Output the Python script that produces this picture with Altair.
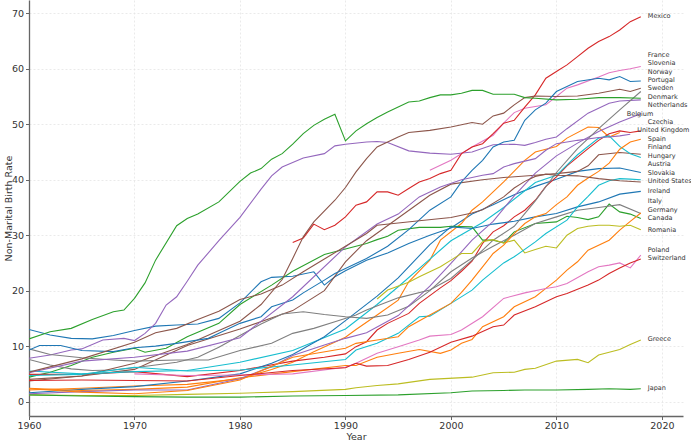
import altair as alt
import pandas as pd

countries = ["Austria", "Belgium", "Canada", "Czechia", "Denmark", "Finland", "France",
             "Germany", "Greece", "Hungary", "Ireland", "Italy", "Japan", "Mexico",
             "Netherlands", "Norway", "Poland", "Portugal", "Romania", "Slovakia",
             "Slovenia", "Spain", "Sweden", "Switzerland", "United Kingdom", "United States"]

austria_years = [1960,1962,1964,1966,1968,1970,1972,1974,1976,1978,1980,1982,1983,1985,1987,1988,1989,1990,1992,1994,1996,1998,2000,2002,2004,2006,2008,2010,2012,2014,2016,2018]
austria_vals = [13.0,12.0,11.4,11.3,11.9,12.8,13.6,13.8,14.0,15.0,17.8,21.6,22.4,22.6,23.4,21.0,22.5,23.6,25.5,26.8,28.5,30.0,31.3,33.8,35.5,37.3,38.8,40.1,41.5,42.0,42.1,41.3]

belgium_years = [1960,1965,1970,1975,1980,1983,1985,1987,1990,1991,1993,1995,1996,1998,1999,2001,2002,2003,2005,2007,2008,2010,2011,2013,2014,2015,2016]
belgium_vals = [2.1,2.4,2.8,3.1,4.1,5.8,7.1,9.0,11.6,13.0,15.6,18.3,21.6,25.5,29.1,32.1,34.5,36.0,39.6,43.5,45.0,46.0,47.5,49.5,49.4,47.7,48.5]

canada_years = [1960,1962,1964,1966,1968,1970,1971,1973,1975,1978,1980,1983,1985,1988,1990,1992,1993,1994,1995,1997,1999,2000,2002,2003,2004,2005,2006,2008,2010,2011,2012,2013,2014,2015,2016,2017,2018]
canada_vals = [4.4,5.3,6.5,8.0,8.9,9.6,8.9,9.6,11.7,14.1,17.5,21.0,23.5,26.5,27.5,28.5,29.2,29.8,30.9,31.4,31.4,31.6,31.5,29.1,29.1,28.6,30.6,32.1,32.4,33.4,33.2,32.8,33.3,35.6,34.2,33.8,33.0]

czechia_years = [1960,1965,1970,1975,1980,1985,1988,1990,1991,1992,1993,1994,1996,1997,1999,2000,2001,2002,2003,2004,2005,2006,2007,2008,2009,2010,2011,2013,2014,2015,2016,2017,2018]
czechia_vals = [4.9,4.9,5.4,4.5,5.6,7.3,8.0,8.6,9.9,10.8,12.9,14.1,15.9,17.7,20.5,21.8,23.5,25.3,28.5,30.6,31.7,33.3,34.5,36.3,38.8,40.5,42.5,45.6,47.1,48.3,48.8,48.5,48.8]

denmark_years = [1960,1962,1964,1965,1967,1969,1970,1971,1972,1973,1974,1975,1976,1978,1980,1982,1983,1984,1986,1988,1989,1990,1992,1993,1994,1996,1998,2000,2002,2004,2006,2007,2008,2009,2010,2011,2013,2015,2016,2018]
denmark_vals = [7.8,8.4,9.3,9.5,11.1,11.4,11.0,12.3,14.1,17.4,18.9,21.7,24.6,29.0,33.2,38.3,40.7,42.3,43.9,44.7,46.1,46.4,46.8,46.9,46.7,45.2,44.8,44.6,45.0,46.3,46.4,46.2,46.7,47.3,47.7,49.2,52.0,53.8,54.2,54.4]

finland_years = [1960,1965,1970,1975,1980,1985,1988,1990,1992,1995,1998,2000,2003,2005,2008,2010,2012,2013,2014,2016,2018]
finland_vals = [4.0,4.6,5.8,10.1,13.1,16.4,20.0,25.2,29.0,33.1,37.2,39.2,40.0,40.4,40.8,41.1,41.5,42.5,44.5,44.9,44.6]

france_years = [1998,2000,2002,2004,2005,2006,2007,2009,2010,2011,2012,2014,2015,2016,2017,2018]
france_vals = [41.7,43.5,45.9,48.0,50.2,52.1,52.9,53.5,55.0,56.5,57.1,58.5,59.3,59.7,60.0,60.4]

germany_years = [1960,1962,1964,1966,1968,1970,1972,1974,1976,1978,1980,1982,1984,1986,1988,1990,1992,1994,1996,1998,2000,2002,2004,2006,2008,2010,2012,2014,2016,2018]
germany_vals = [7.6,6.6,5.9,5.6,5.7,6.1,6.6,7.1,8.0,9.8,11.9,14.0,15.8,16.2,15.7,15.3,15.0,15.6,17.2,20.0,23.4,25.9,28.0,30.0,32.1,33.3,34.5,35.0,35.5,33.9]

greece_years = [1960,1965,1970,1975,1980,1985,1990,1991,1993,1995,1998,2002,2004,2006,2007,2008,2010,2012,2013,2014,2015,2016,2017,2018]
greece_vals = [1.2,1.1,1.1,1.3,1.5,1.8,2.2,2.5,2.9,3.2,4.0,4.4,5.2,5.3,5.8,6.0,7.3,7.6,7.0,8.4,8.9,9.4,10.3,11.1]

hungary_years = [1960,1965,1970,1975,1980,1985,1990,1993,1995,1997,2000,2003,2005,2008,2010,2012,2014,2015,2016,2017,2018]
hungary_vals = [5.5,5.0,5.4,5.6,7.1,9.2,13.1,17.5,20.7,24.0,29.0,32.3,35.0,39.5,40.8,44.5,47.5,47.9,46.0,44.7,44.0]

ireland_years = [1960,1965,1970,1975,1980,1983,1985,1988,1990,1993,1995,1998,2000,2002,2004,2006,2008,2010,2012,2014,2016,2018]
ireland_vals = [1.6,2.2,2.7,3.7,5.0,6.9,8.5,11.7,14.6,19.0,22.3,28.3,31.5,31.2,32.0,32.5,33.3,33.9,35.1,36.0,37.4,37.9]

italy_years = [1960,1965,1970,1975,1980,1985,1990,1991,1993,1995,1997,1999,2000,2001,2002,2003,2005,2006,2008,2009,2010,2011,2012,2013,2015,2016,2017,2018]
italy_vals = [2.4,2.0,2.2,2.6,4.3,5.4,6.5,6.5,8.0,8.7,9.4,8.7,9.3,10.5,11.2,13.5,15.3,17.1,18.9,20.4,21.9,23.7,25.2,27.3,29.1,30.9,32.5,34.0]

japan_years = [1960,1965,1970,1975,1980,1985,1990,1995,2000,2002,2005,2007,2010,2013,2015,2017,2018]
japan_vals = [1.2,1.0,0.9,0.8,0.8,1.0,1.1,1.2,1.6,1.9,2.0,2.1,2.1,2.2,2.3,2.2,2.3]

mexico_years = [1985,1986,1987,1988,1989,1990,1991,1992,1993,1994,1995,1996,1997,1998,1999,2000,2001,2002,2003,2004,2005,2006,2007,2008,2009,2010,2011,2012,2013,2014,2015,2016,2017,2018]
mexico_vals = [28.7,29.5,32.0,31.0,31.8,33.3,35.4,36.0,37.8,37.8,37.2,38.4,39.6,40.2,41.1,41.7,44.7,45.9,46.5,48.3,50.2,50.7,53.1,55.3,58.3,59.5,60.7,62.2,63.7,64.9,65.8,67.0,68.5,69.4]

netherlands_years = [1960,1965,1970,1975,1980,1983,1985,1988,1990,1992,1995,1998,2000,2002,2004,2006,2008,2010,2012,2014,2016,2018]
netherlands_vals = [1.4,1.8,2.1,2.1,4.1,6.3,8.3,10.2,11.4,12.4,15.5,20.8,24.9,29.1,32.5,37.1,41.2,44.3,46.6,48.7,50.4,51.9]

norway_years = [1960,1965,1970,1975,1980,1982,1984,1985,1986,1987,1989,1990,1991,1992,1993,1995,1996,1998,2000,2002,2003,2004,2005,2006,2007,2008,2010,2012,2014,2016,2017,2018]
norway_vals = [3.7,4.6,6.9,10.3,14.5,17.5,22.0,25.8,29.7,32.4,36.3,38.6,41.4,43.8,45.9,47.7,48.5,48.9,49.5,50.3,50.0,51.5,52.0,53.5,54.8,55.1,55.0,55.1,55.6,56.3,55.9,56.5]

poland_years = [1970,1975,1980,1985,1990,1991,1993,1995,1997,1998,2000,2001,2003,2005,2007,2009,2010,2011,2013,2014,2015,2016,2017,2018]
poland_vals = [5.0,4.7,4.8,5.0,6.2,6.9,8.7,9.9,11.1,11.8,12.1,12.9,15.3,18.6,19.6,20.4,20.7,21.3,23.4,24.3,24.6,25.0,24.1,26.4]

portugal_years = [1960,1962,1965,1968,1970,1974,1977,1980,1983,1985,1987,1989,1991,1992,1995,1998,2000,2002,2004,2006,2008,2010,2012,2014,2016,2018]
portugal_vals = [9.5,8.5,7.9,7.5,7.3,7.5,7.5,9.2,10.5,12.3,13.2,14.4,15.6,16.5,18.7,20.1,22.2,25.5,29.1,31.6,36.2,41.3,45.6,49.2,52.6,55.9]

romania_years = [1993,1994,1996,1997,1998,1999,2000,2001,2002,2003,2004,2005,2006,2007,2008,2009,2010,2011,2012,2013,2014,2015,2016,2017,2018]
romania_vals = [18.5,20.1,21.5,22.5,23.4,24.3,25.5,26.7,26.7,28.8,29.2,28.6,29.1,26.8,27.4,28.0,27.7,30.0,31.2,31.6,31.8,31.8,31.6,31.8,31.0]

slovakia_years = [1960,1965,1970,1975,1980,1985,1990,1991,1993,1995,1997,1998,2000,2002,2003,2005,2006,2008,2009,2011,2012,2013,2014,2015,2016,2017,2018]
slovakia_vals = [4.7,4.9,6.2,5.5,5.7,6.6,7.6,9.3,10.5,12.3,15.3,15.4,17.7,20.1,21.9,25.0,26.1,28.8,30.3,32.7,35.1,37.0,39.0,39.8,40.2,40.1,40.0]

slovenia_years = [1960,1961,1963,1965,1968,1970,1972,1974,1977,1978,1980,1982,1983,1985,1986,1988,1989,1990,1992,1994,1996,1998,2000,2001,2002,2003,2004,2005,2006,2007,2008,2009,2010,2011,2012,2014,2015,2016,2017,2018]
slovenia_vals = [9.3,10.1,10.1,9.2,9.0,9.7,10.0,10.5,11.4,12.3,14.1,15.3,17.1,18.3,19.6,21.9,23.1,24.0,25.8,28.0,31.0,34.5,36.9,39.6,41.7,43.5,45.9,46.8,47.1,50.7,52.6,53.8,55.9,56.8,57.7,58.3,58.0,58.6,57.7,57.8]

spain_years = [1960,1965,1970,1975,1980,1985,1990,1991,1993,1995,1996,1998,2000,2001,2002,2003,2004,2005,2006,2007,2008,2009,2010,2011,2012,2013,2014,2015,2016,2017,2018]
spain_vals = [2.3,1.7,1.4,2.0,3.9,8.0,9.6,10.5,11.1,11.7,13.5,15.6,17.7,19.7,21.9,24.3,26.7,28.2,30.3,32.1,33.3,33.9,35.5,36.9,39.0,40.3,41.5,43.0,45.5,46.8,47.3]

sweden_years = [1960,1962,1964,1966,1968,1969,1970,1971,1972,1974,1975,1976,1978,1980,1981,1982,1983,1984,1985,1986,1987,1988,1989,1990,1991,1992,1993,1994,1995,1996,1997,1998,1999,2000,2001,2002,2003,2004,2005,2006,2007,2008,2010,2012,2014,2016,2018]
sweden_vals = [11.3,12.6,13.2,14.8,16.2,16.5,18.6,21.4,25.5,31.7,33.0,33.8,36.0,39.7,41.2,42.0,43.7,44.7,46.4,48.3,49.8,50.9,51.8,47.0,48.8,50.1,51.2,52.2,53.1,54.0,54.2,54.8,55.3,55.3,55.6,56.1,56.1,55.4,55.4,55.4,54.8,54.7,54.4,54.5,54.8,54.8,54.7]

switzerland_years = [1960,1965,1970,1975,1980,1985,1990,1991,1992,1994,1996,1998,2000,2002,2004,2005,2006,2008,2010,2011,2013,2014,2015,2016,2017,2018]
switzerland_vals = [3.8,3.9,3.8,3.7,4.7,5.6,6.1,6.9,6.4,6.5,7.6,8.9,10.7,11.8,13.5,13.8,15.6,17.1,18.9,19.5,21.0,21.9,23.1,24.1,25.0,25.7]

uk_years = [1960,1965,1970,1975,1980,1985,1990,1993,1995,1997,1999,2001,2003,2004,2005,2006,2008,2009,2010,2012,2014,2015,2016,2017]
uk_vals = [5.2,7.3,8.0,9.1,11.5,18.9,27.9,32.0,33.8,36.9,38.7,40.0,40.8,41.1,42.3,42.9,43.8,45.3,46.5,47.1,47.6,47.7,47.9,48.2]

us_years = [1960,1965,1970,1972,1974,1976,1978,1980,1982,1984,1986,1988,1990,1992,1993,1995,1997,2000,2002,2003,2005,2006,2007,2008,2009,2010,2012,2014,2016,2018]
us_vals = [5.3,7.7,10.7,12.4,13.2,14.8,16.3,18.4,19.4,21.0,23.4,25.7,28.0,30.3,31.8,32.2,32.6,33.2,34.0,34.6,36.9,38.5,39.7,40.6,41.0,40.8,40.7,40.2,39.8,39.6]

# end-label vertical positions (data units), in the same order as countries
label_y = [42.8, 51.9, 33.1, 50.4, 54.9, 45.9, 62.4, 34.6, 11.2, 44.3, 37.9, 36.1, 2.4,
           69.5, 53.4, 59.5, 27.3, 58.0, 31.0, 41.2, 61.0, 47.4, 56.5, 25.8, 48.9, 39.7]

series = [
    (austria_years, austria_vals), (belgium_years, belgium_vals), (canada_years, canada_vals),
    (czechia_years, czechia_vals), (denmark_years, denmark_vals), (finland_years, finland_vals),
    (france_years, france_vals), (germany_years, germany_vals), (greece_years, greece_vals),
    (hungary_years, hungary_vals), (ireland_years, ireland_vals), (italy_years, italy_vals),
    (japan_years, japan_vals), (mexico_years, mexico_vals), (netherlands_years, netherlands_vals),
    (norway_years, norway_vals), (poland_years, poland_vals), (portugal_years, portugal_vals),
    (romania_years, romania_vals), (slovakia_years, slovakia_vals), (slovenia_years, slovenia_vals),
    (spain_years, spain_vals), (sweden_years, sweden_vals), (switzerland_years, switzerland_vals),
    (uk_years, uk_vals), (us_years, us_vals),
]

frames = []
for name, (yrs, vals) in zip(countries, series):
    frames.append(pd.DataFrame({"year": yrs, "value": vals, "country": name}))
df = pd.concat(frames, ignore_index=True)

lab_df = pd.DataFrame({
    "country": countries,
    "x": [yrs[-1] + 0.66 for yrs, _ in series],
    "y": label_y,
})

tab10 = ["#1f77b4", "#ff7f0e", "#2ca02c", "#d62728", "#9467bd",
         "#8c564b", "#e377c2", "#7f7f7f", "#bcbd22", "#17becf"]
color_scale = alt.Scale(domain=countries, range=[tab10[i % 10] for i in range(len(countries))])

x_scale = alt.Scale(domain=[1960, 2022], nice=False, zero=False)
y_scale = alt.Scale(domain=[-2.6, 72.4], nice=False, zero=False)

lines = alt.Chart(df).mark_line(strokeWidth=1.1, clip=True).encode(
    x=alt.X("year:Q", scale=x_scale,
            axis=alt.Axis(values=[1960, 1970, 1980, 1990, 2000, 2010, 2020], format="d",
                          title="Year", titleY=20, titleBaseline="middle",
                          labelFlush=False, labelPadding=0.5)),
    y=alt.Y("value:Q", scale=y_scale,
            axis=alt.Axis(values=[0, 10, 20, 30, 40, 50, 60, 70], title="Non-Marital Birth Rate",
                          titleX=-21, titleY=208, titleAlign="center", titleBaseline="middle",
                          titleAngle=270, labelFlush=False, labelPadding=2)),
    color=alt.Color("country:N", scale=color_scale, legend=None),
    order=alt.Order("year:Q"),
)

labels = alt.Chart(lab_df).mark_text(
    align="left", baseline="middle", fontSize=6.5, font="DejaVu Sans", color="#333333"
).encode(
    x=alt.X("x:Q", scale=x_scale),
    y=alt.Y("y:Q", scale=y_scale),
    text="country:N",
)

chart = alt.layer(lines, labels).properties(
    width=654, height=416,
    autosize=alt.AutoSizeParams(type="none"),
    padding={"left": 29, "top": 0, "right": 8, "bottom": 24},
).configure_view(stroke=None).configure_axis(
    domainColor="#666666", domainWidth=1.3,
    tickColor="#666666", tickSize=3.5, tickWidth=1,
    labelColor="#333333", labelFont="DejaVu Sans", labelFontSize=9.5,
    titleColor="#333333", titleFont="DejaVu Sans", titleFontSize=9.5, titleFontWeight="normal",
    gridColor="#e4e4e4", gridDash=[2, 2], gridWidth=0.8,
)

chart.save("out.html", embed_options={"renderer": "svg", "actions": False})
